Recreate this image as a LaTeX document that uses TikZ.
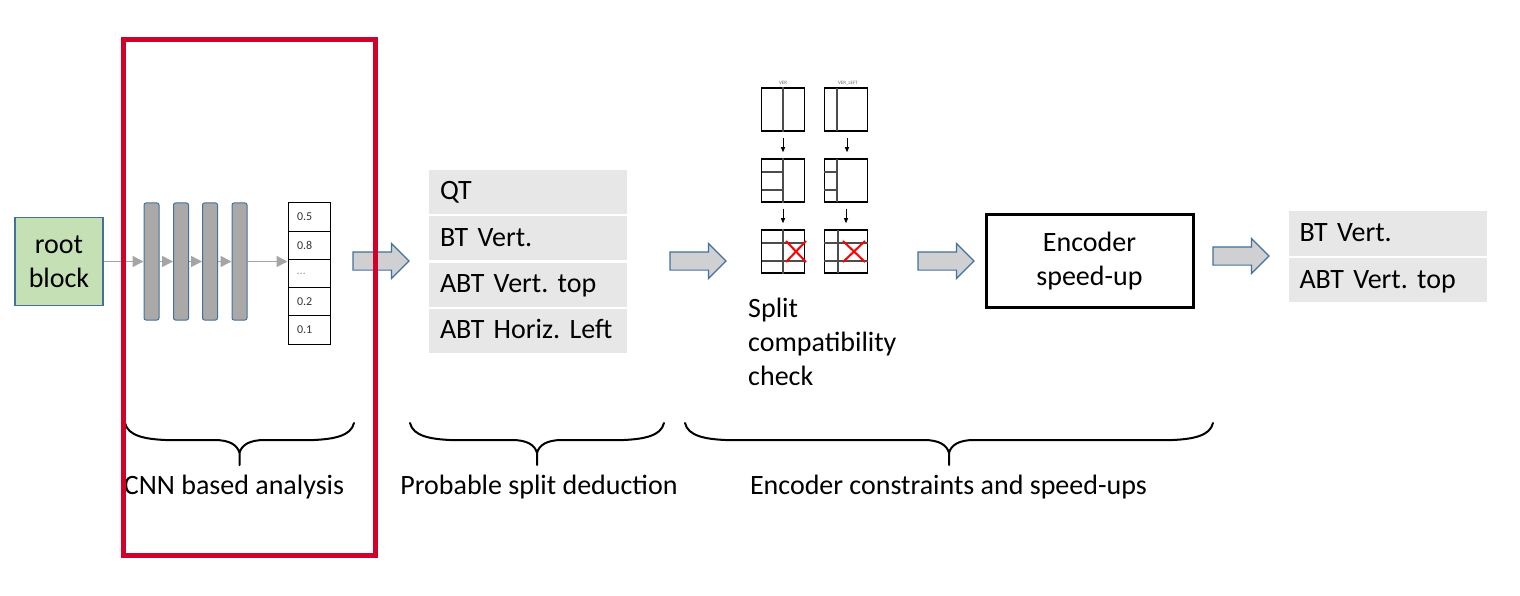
\documentclass[tikz,border=0pt]{standalone}
\usepackage{fontspec}
\setmainfont{Carlito}
\usetikzlibrary{arrows.meta,shapes.arrows}
\definecolor{framered}{RGB}{208,2,42}
\definecolor{officeblue}{RGB}{65,113,156}
\definecolor{rootgreen}{RGB}{197,224,180}
\definecolor{layergray}{RGB}{171,168,168}
\definecolor{rowgray}{RGB}{231,231,231}
\definecolor{arrowgray}{RGB}{208,208,210}
\definecolor{wiregray}{RGB}{165,165,165}
\begin{document}
\begin{tikzpicture}[x=1pt,y=-1pt,
    bigtext/.style={font=\fontsize{28}{34}\selectfont\frenchspacing},
    rootbox/.style={draw=officeblue,fill=rootgreen,line width=1.2pt,minimum width=88pt,minimum height=88pt,align=center,bigtext},
    layer/.style={draw=officeblue,fill=layergray,line width=1pt,rounded corners=2pt,minimum width=15pt,minimum height=117pt,inner sep=0pt},
    probcell/.style={draw=black,line width=1pt,minimum width=42pt,minimum height=28.2pt,text width=24pt,inner xsep=9pt,align=left,font=\fontsize{12}{14}\selectfont,text=black!80},
    wire/.style={draw=wiregray,line width=1.5pt,-{Triangle[length=11pt,width=11pt]}},
    blockarrow/.style={single arrow,draw=officeblue,fill=arrowgray,line width=1.2pt,minimum height=56pt,single arrow head extend=8.5pt,inner sep=8.5pt,outer sep=0pt,anchor=tail},
    splitrow/.style={fill=rowgray,minimum width=198pt,minimum height=44pt,text width=176pt,inner xsep=11pt,inner ysep=0pt,text height=18pt,text depth=2pt,align=left,bigtext},
    splitbox/.style={draw=black,line width=1.5pt,minimum size=43pt,inner sep=0pt},
    gridline/.style={draw=black!70,line width=1.2pt},
    cross/.style={draw=red,line width=2pt},
    splitarrow/.style={draw=black,line width=0.8pt,-{Triangle[length=5pt,width=4pt]},shorten <=6pt,shorten >=6pt},
    tinylabel/.style={font=\fontsize{5}{6}\selectfont,text=black!60,inner sep=0pt},
    encbox/.style={draw=black,line width=3pt,minimum width=207pt,minimum height=92pt,align=center,bigtext},
    brace/.style={draw=black,line width=2pt,line cap=round}]
  \useasboundingbox (0,0) rectangle (1520,596);
  % CNN stage
  \node[rootbox] (root) at (59,261.5) {root\\block};
  \foreach \x [count=\i] in {151.5,181,210,239.5}
    \node[layer] (bar\i) at (\x,261.5) {};
  \foreach \v [count=\i] in {0.5,0.8,{\textcolor{black!40}{\ldots}},0.2,0.1}
    \node[probcell] (cell\i) at (309,{203+(\i-0.5)*28.2}) {\v};
  \draw[wire] (root) -- (bar1);
  \foreach \i/\j in {1/2,2/3,3/4}
    \draw[wire] (bar\i) -- (bar\j);
  \draw[wire] (bar4) -- (bar4 -| cell1.west);
  % block arrows
  \node[blockarrow] (arr1) at (353,261) {};
  \node[blockarrow] (arr2) at (670,261) {};
  \node[blockarrow] (arr3) at (918,261) {};
  \node[blockarrow] (arr4) at (1213,256) {};
  % probable splits
  \foreach \t [count=\i] in {QT,BT Vert.,ABT Vert. top,ABT Horiz. Left}
    \node[splitrow] (cand\i) at (528,{192+(\i-1)*46.3}) {\t};
  % split compatibility
  \node[tinylabel] (verlabel) at (783,83) {VER};
  \node[tinylabel] (leftlabel) at (848,83) {VER\_LEFT};
  \foreach \r/\y in {1/109.5,2/180.5,3/251.5}
  {
    \node[splitbox] (v\r) at (783,\y) {};
    \node[splitbox] (l\r) at (846,\y) {};
  }
  \draw[gridline] (v1.north) -- (v1.south) (v2.north) -- (v2.south) (v3.north) -- (v3.south);
  \draw[gridline] (762,172) -- (783,172) (762,190) -- (783,190);
  \draw[gridline] (762,243) -- (804,243) (762,261) -- (804,261);
  \draw[gridline] (837,88) -- (837,131) (837,159) -- (837,202) (838,230) -- (838,273);
  \draw[gridline] (824,172) -- (837,172) (824,190) -- (837,190);
  \draw[gridline] (824,243) -- (868,243) (824,261) -- (868,261);
  \draw[cross] (786,241) -- (806,262) (786,262) -- (806,241);
  \draw[cross] (843,241) -- (865,262) (843,262) -- (865,241);
  \draw[splitarrow] (v1) -- (v2);
  \draw[splitarrow] (v2) -- (v3);
  \draw[splitarrow] (l1.south -| 847,0) -- (l2.north -| 847,0);
  \draw[splitarrow] (l2.south -| 846,0) -- (l3.north -| 846,0);
  \node[bigtext,align=left,anchor=north west,inner sep=0pt] (compat) at (748,298) {Split\\compatibility\\check};
  % encoder
  \node[encbox] (enc) at (1089.5,261) {Encoder\\speed-up};
  \node[splitrow] (final1) at (1387.5,233.5) {BT Vert.};
  \node[splitrow] (final2) at (1387.5,280) {ABT Vert. top};
  % braces and captions
  \foreach \a/\b/\c/\t [count=\i] in {125/354/234/CNN based analysis,410/664/539/Probable split deduction,685/1213/948.5/Encoder constraints and speed-ups}
  {
    \pgfmathsetmacro\m{(\a+\b)/2}
    \draw[brace] (\a,423) .. controls (\a+3,436) and (\a+20,439) .. (\a+40,440) -- (\m-25,440) .. controls (\m-10,440) and (\m-2,445) .. (\m,453) -- (\m,465)
      (\m,453) .. controls (\m+2,445) and (\m+10,440) .. (\m+25,440) -- (\b-40,440) .. controls (\b-20,439) and (\b-3,436) .. (\b,423);
    \node[bigtext,anchor=base,inner sep=0pt] (phase\i) at (\c,494) {\t};
  }
  \draw[framered,line width=5pt] (123,40) rectangle (375,555);
\end{tikzpicture}
\end{document}
